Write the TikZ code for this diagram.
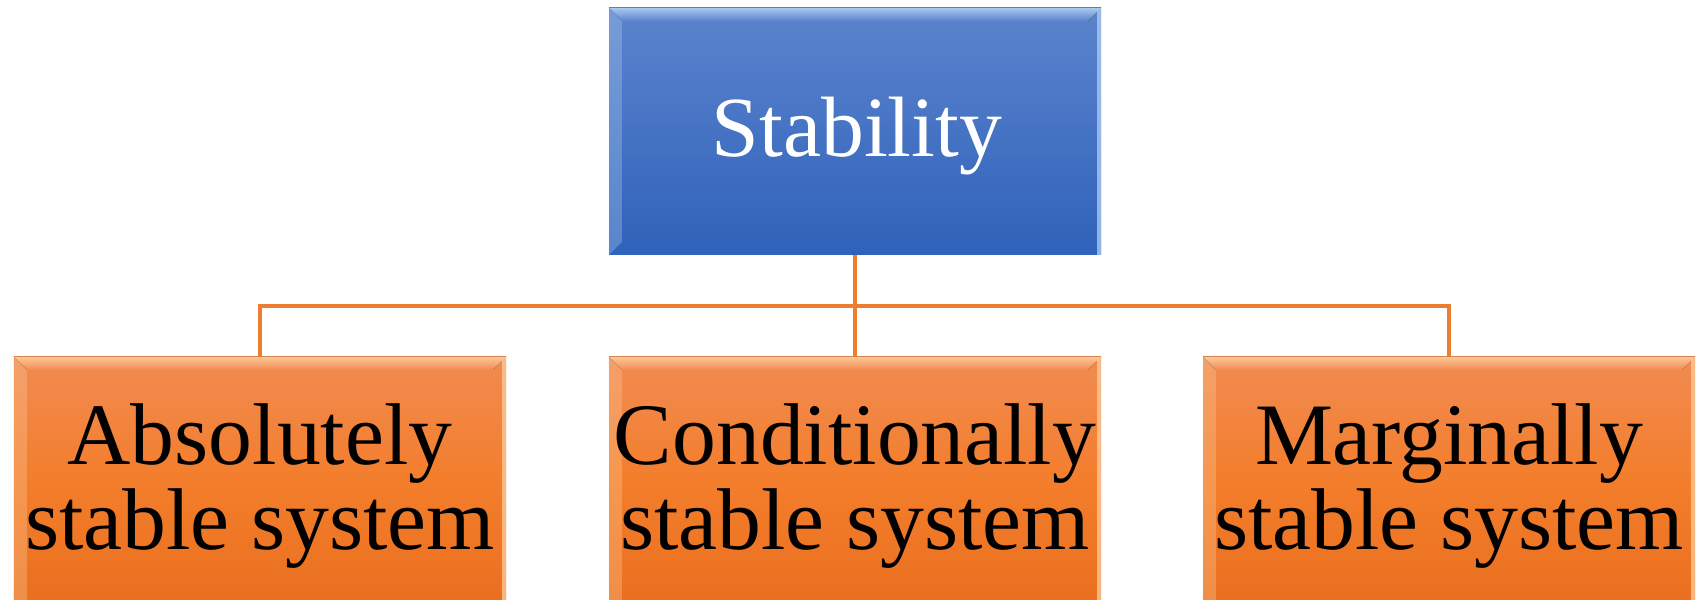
\documentclass[tikz,border=0pt]{standalone}
\usepackage{fontspec}
\setmainfont{Liberation Serif}
\definecolor{bluetop}{RGB}{92,132,205}
\definecolor{bluebot}{RGB}{47,98,186}
\definecolor{bluelite}{RGB}{170,200,240}
\definecolor{orgtop}{RGB}{241,139,82}
\definecolor{orgmid}{RGB}{243,125,42}
\definecolor{orgbot}{RGB}{232,110,30}
\definecolor{orglite}{RGB}{252,200,150}
\definecolor{connc}{RGB}{237,125,49}
\newcommand\bevelbox[3]{%
  \fill[top color=#2, bottom color=#3] (#1.north west) -- (#1.north east) -- ([xshift=-13bp,yshift=-13bp]#1.north east) -- ([xshift=13bp,yshift=-13bp]#1.north west) -- cycle;
  \fill[#2, opacity=0.35] (#1.north west) -- ([xshift=13bp,yshift=-13bp]#1.north west) -- ([xshift=13bp,yshift=13bp]#1.south west) -- (#1.south west) -- cycle;
  \fill[#2, opacity=0.8] ([xshift=-4bp]#1.north east) rectangle (#1.south east);
}
\begin{document}
\begin{tikzpicture}[x=1bp,y=1bp,
  bluebox/.style={rectangle, minimum width=492bp, minimum height=247bp, inner sep=0pt,
    top color=bluetop, bottom color=bluebot, draw=none},
  orgbox/.style={rectangle, minimum width=492bp, minimum height=258bp, inner sep=0pt,
    top color=orgtop, bottom color=orgbot, middle color=orgmid, draw=none},
  toptext/.style={text=white, font=\fontsize{86}{86}\selectfont, inner sep=0pt},
  boxtext/.style={text=black, align=center, font=\fontsize{88}{86}\selectfont, inner sep=0pt},
  connline/.style={draw=connc, line width=3.2bp},
]
\useasboundingbox (0,0) rectangle (1696,600);
\clip (0,0) rectangle (1696,600);
% boxes
\node[bluebox] (st) at (855,468.5) {};
\node[orgbox] (abs) at (260,114) {};
\node[orgbox] (con) at (855,114) {};
\node[orgbox] (mar) at (1449,114) {};
\bevelbox{st}{bluelite}{bluetop}
\bevelbox{abs}{orglite}{orgtop}
\bevelbox{con}{orglite}{orgtop}
\bevelbox{mar}{orglite}{orgtop}
% texts
\node[toptext, anchor=base] (stt) at (857,443) {Stability};
\node[boxtext] (abst) at (abs.center) {Absolutely\\stable system};
\node[boxtext] (cont) at (con.center) {Conditionally\\stable system};
\node[boxtext] (mart) at (mar.center) {Marginally\\stable system};
% connectors
\coordinate (j) at (855,294);
\draw[connline] (st.south) -- (j);
\draw[connline] (j) -- (con.north);
\draw[connline] (j) -| (abs.north);
\draw[connline] (j) -| (mar.north);
\end{tikzpicture}
\end{document}
